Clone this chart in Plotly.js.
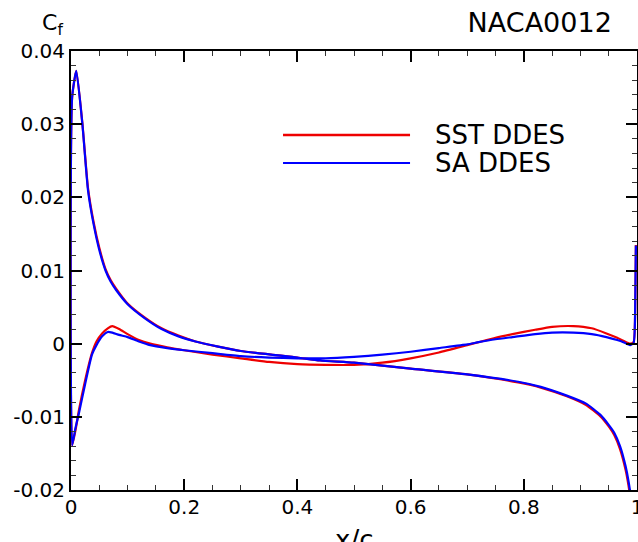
<!DOCTYPE html>
<html>
<head>
<meta charset="utf-8">
<script src="https://cdn.plot.ly/plotly-3.0.1.min.js"></script>
<style>
  html, body { margin: 0; padding: 0; background: #fff; overflow: hidden; }
  #chart { width: 638px; height: 542px; }
</style>
</head>
<body>
<div id="chart"></div>
<script>
// ---- Data ----
const seriesNames = ["SST DDES", "SA DDES"];

// Surface A: leading-edge peak, decaying to strongly negative near the trailing edge
const xSurfA = [0.002, 0.0094, 0.02, 0.03, 0.04, 0.05, 0.061, 0.07, 0.08, 0.1, 0.13, 0.16, 0.19, 0.22, 0.26, 0.3, 0.4, 0.44, 0.5, 0.6, 0.7, 0.79, 0.83, 0.876, 0.91, 0.935, 0.95, 0.96, 0.97, 0.98, 0.985, 0.99, 0.995];
const cfSurfA_SST = [0.0337, 0.0373, 0.0302, 0.0213, 0.0166, 0.0131, 0.0102, 0.0087, 0.0075, 0.0055, 0.0036, 0.0021, 0.0011, 0.0003, -0.0004, -0.0010, -0.0019, -0.0023, -0.0026, -0.0034, -0.0042, -0.0053, -0.0060, -0.0072, -0.0084, -0.0099, -0.0113, -0.0125, -0.0144, -0.0173, -0.0194, -0.0222, -0.0280];
const cfSurfA_SA  = [0.0337, 0.0373, 0.0301, 0.0210, 0.0163, 0.0128, 0.0100, 0.0085, 0.0073, 0.0054, 0.0035, 0.0020, 0.0010, 0.0003, -0.0004, -0.0010, -0.0019, -0.0023, -0.0026, -0.0034, -0.0042, -0.0052, -0.0059, -0.0071, -0.0082, -0.0097, -0.0111, -0.0122, -0.0140, -0.0168, -0.0188, -0.0215, -0.0270];

// Surface B: negative at the leading edge, small bump, low plateau, hump near x/c 0.88, spike at the trailing edge
const xSurfB = [0.002, 0.008, 0.014, 0.025, 0.037, 0.045, 0.055, 0.065, 0.073, 0.085, 0.1, 0.12, 0.14, 0.17, 0.2, 0.25, 0.3, 0.35, 0.4, 0.45, 0.5, 0.55, 0.6, 0.65, 0.7, 0.72, 0.75, 0.78, 0.82, 0.85, 0.8875, 0.92, 0.946, 0.965, 0.976, 0.9876, 0.994, 0.997, 0.998];
const cfSurfB_SST = [-0.0139, -0.0118, -0.0091, -0.0050, -0.0013, 0.0003, 0.0014, 0.0021, 0.0024, 0.0020, 0.0013, 0.0005, 0.0000, -0.0005, -0.0009, -0.0015, -0.0020, -0.0025, -0.0028, -0.0029, -0.0029, -0.0026, -0.0020, -0.0012, -0.0002, 0.0002, 0.0008, 0.0013, 0.0019, 0.0023, 0.0024, 0.0021, 0.0014, 0.0008, 0.0004, 0.0000, 0.0002, 0.0060, 0.0135];
const cfSurfB_SA  = [-0.0139, -0.0115, -0.0095, -0.0055, -0.0015, -0.0002, 0.0010, 0.0016, 0.0015, 0.0012, 0.0009, 0.0003, -0.0002, -0.0006, -0.0009, -0.0013, -0.0017, -0.0019, -0.0020, -0.0020, -0.0018, -0.0015, -0.0011, -0.0006, -0.0001, 0.0002, 0.0006, 0.0009, 0.0013, 0.0015, 0.0015, 0.0013, 0.0009, 0.0005, 0.0002, -0.0002, 0.0001, 0.0060, 0.0134];

const xTickVals = [0, 0.2, 0.4, 0.6, 0.8, 1];
const xTickText = ["0", "0.2", "0.4", "0.6", "0.8", "1"];
const yTickVals = [-0.02, -0.01, 0, 0.01, 0.02, 0.03, 0.04];
const yTickText = ["-0.02", "-0.01", "0", "0.01", "0.02", "0.03", "0.04"];
const xAxisTitle = "x/c";
const yAxisTitle = "C<sub>f</sub>";
const chartTitle = "NACA0012";

// ---- Build traces: one continuous loop per model (surface A reversed, then surface B) ----
function loop(xa, ya, xb, yb) {
  return {
    x: xa.slice().reverse().concat(xb),
    y: ya.slice().reverse().concat(yb)
  };
}
const colors = ["#ee0000", "#0000ff"];
const loopSST = loop(xSurfA, cfSurfA_SST, xSurfB, cfSurfB_SST);
const loopSA = loop(xSurfA, cfSurfA_SA, xSurfB, cfSurfB_SA);

const traces = [
  { x: loopSST.x, y: loopSST.y, name: seriesNames[0], mode: "lines", type: "scatter",
    line: { color: colors[0], width: 2.2, shape: "spline", smoothing: 0.5 }, showlegend: false },
  { x: loopSA.x, y: loopSA.y, name: seriesNames[1], mode: "lines", type: "scatter",
    line: { color: colors[1], width: 2.2, shape: "spline", smoothing: 0.5 }, showlegend: false }
];

const FONT = "DejaVu Sans, Liberation Sans, Arial, sans-serif";

// legend drawn as long line samples (like the reference) in paper coordinates
const legendShapes = [
  { type: "line", xref: "paper", yref: "paper", x0: 0.3746, x1: 0.599, y0: 0.8087, y1: 0.8087,
    line: { color: colors[0], width: 2.5 } },
  { type: "line", xref: "paper", yref: "paper", x0: 0.3746, x1: 0.599, y0: 0.745, y1: 0.745,
    line: { color: colors[1], width: 2 } }
];

const layout = {
  width: 638, height: 542,
  margin: { l: 71, r: 1, t: 51, b: 52, pad: 0 },
  paper_bgcolor: "#ffffff", plot_bgcolor: "#ffffff",
  font: { family: FONT, color: "#000000", size: 20 },
  title: { text: chartTitle, x: 0.959, xanchor: "right", xref: "container",
           y: 0.958, yanchor: "middle", yref: "container",
           font: { family: FONT, size: 27, color: "#000" } },
  showlegend: false,
  xaxis: {
    range: [0, 1], autorange: false,
    tickvals: xTickVals, ticktext: xTickText,
    ticks: "inside", ticklen: 11, tickwidth: 2, tickcolor: "#000",
    minor: { dtick: 0.05, tick0: 0, ticks: "inside", ticklen: 5, tickwidth: 1, tickcolor: "#333" },
    showline: true, linewidth: 2, linecolor: "#000", mirror: "allticks",
    showgrid: false, zeroline: false,
    tickfont: { family: FONT, size: 20, color: "#000" },
    ticklabeloverflow: "allow",
    ticklabelstandoff: -2,
    automargin: false
  },
  yaxis: {
    range: [-0.02, 0.04], autorange: false,
    tickvals: yTickVals, ticktext: yTickText,
    ticks: "inside", ticklen: 11, tickwidth: 2, tickcolor: "#000",
    minor: { dtick: 0.002, tick0: 0, ticks: "inside", ticklen: 5, tickwidth: 1, tickcolor: "#333" },
    showline: true, linewidth: 2, linecolor: "#000", mirror: "allticks",
    showgrid: false, zeroline: false,
    tickfont: { family: FONT, size: 20, color: "#000" },
    ticklabeloverflow: "allow",
    automargin: false
  },
  shapes: legendShapes,
  annotations: [
    { text: yAxisTitle, xref: "paper", yref: "paper", x: -0.055, y: 1.06,
      xanchor: "left", yanchor: "middle", showarrow: false,
      font: { family: FONT, size: 22, color: "#000" } },
    // x-axis title: the reference picture is cut just through it at the bottom edge
    { text: xAxisTitle, xref: "paper", yref: "paper", x: 0.5, y: -0.075,
      xanchor: "center", yanchor: "top", showarrow: false,
      font: { family: FONT, size: 26, color: "#000" } },
    { text: seriesNames[0], xref: "paper", yref: "paper", x: 0.6396, y: 0.8087,
      xanchor: "left", yanchor: "middle", showarrow: false,
      font: { family: FONT, size: 26, color: "#000" } },
    { text: seriesNames[1], xref: "paper", yref: "paper", x: 0.6396, y: 0.745,
      xanchor: "left", yanchor: "middle", showarrow: false,
      font: { family: FONT, size: 26, color: "#000" } }
  ]
};

Plotly.newPlot("chart", traces, layout, { displayModeBar: false, staticPlot: true });
</script>
</body>
</html>
